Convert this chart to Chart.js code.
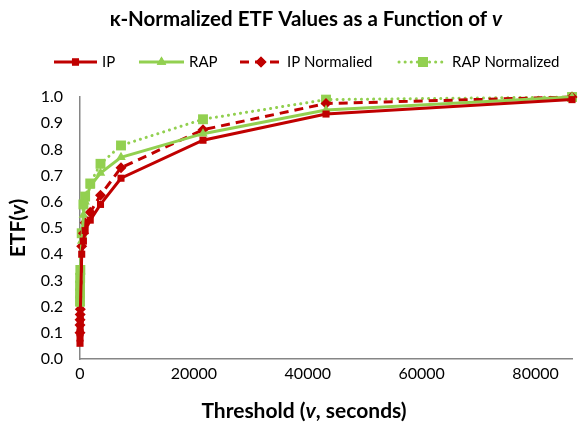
<!DOCTYPE html>
<html>
<head>
<meta charset="utf-8">
<script src="https://cdn.jsdelivr.net/npm/chart.js@4/dist/chart.umd.min.js"></script>
<style>
html,body{margin:0;padding:0;background:#fff;}
#wrap{width:579px;height:429px;position:relative;}
</style>
</head>
<body>
<div id="wrap"><canvas id="c" width="579" height="429"></canvas></div>
<script>
// ---- data ----
const thresholds = [1, 5, 10, 30, 60, 300, 600, 900, 1800, 3600, 7200, 21600, 43200, 86400];
const ipValues = [0.06, 0.08, 0.10, 0.12, 0.15, 0.40, 0.45, 0.49, 0.53, 0.59, 0.69, 0.835, 0.935, 0.99];
const rapValues = [0.21, 0.23, 0.25, 0.28, 0.31, 0.45, 0.55, 0.60, 0.66, 0.71, 0.77, 0.86, 0.95, 1.0];
const ipNormValues = [0.10, 0.13, 0.15, 0.17, 0.19, 0.43, 0.48, 0.52, 0.56, 0.625, 0.73, 0.875, 0.975, 1.0];
const rapNormValues = [0.22, 0.25, 0.28, 0.31, 0.34, 0.48, 0.59, 0.62, 0.67, 0.745, 0.815, 0.915, 0.99, 1.0];
const seriesNames = ['IP', 'RAP', 'IP Normalied', 'RAP Normalized'];
const xTickValues = [0, 20000, 40000, 60000, 80000];
const yTickValues = [0, 0.1, 0.2, 0.3, 0.4, 0.5, 0.6, 0.7, 0.8, 0.9, 1.0];

const RED = '#C00000';
const GREEN = '#92D050';
const FONT = 'Lato, "Open Sans", sans-serif';

function pts(vals){ return thresholds.map((x,i)=>({x:x, y:vals[i]})); }

const datasets = [
  {label: seriesNames[0], data: pts(ipValues), borderColor: RED, backgroundColor: RED,
   borderWidth: 3, pointStyle: 'rect', pointRadius: 5, pointBorderWidth: 0, borderDash: [], clip: false},
  {label: seriesNames[1], data: pts(rapValues), borderColor: GREEN, backgroundColor: GREEN,
   borderWidth: 3, pointStyle: 'triangle', pointRadius: 5.5, pointBorderWidth: 0, borderDash: [], clip: false},
  {label: seriesNames[2], data: pts(ipNormValues), borderColor: RED, backgroundColor: RED,
   borderWidth: 3, pointStyle: 'rectRot', pointRadius: 5.5, pointBorderWidth: 0, borderDash: [9, 6], clip: false},
  {label: seriesNames[3], data: pts(rapNormValues), borderColor: GREEN, backgroundColor: GREEN,
   borderWidth: 3, pointStyle: 'rect', pointRadius: 7, pointBorderWidth: 0, borderDash: [0.1, 6], borderCapStyle: 'round', clip: false}
];

function drawRich(ctx, segs, size, cx, cy){
  let total = 0;
  segs.forEach(s => { ctx.font = s[1] + ' ' + size + 'px ' + FONT; s.w = ctx.measureText(s[0]).width; total += s.w; });
  let x = cx - total/2;
  ctx.textBaseline = 'middle';
  ctx.textAlign = 'left';
  segs.forEach(s => { ctx.font = s[1] + ' ' + size + 'px ' + FONT; ctx.fillText(s[0], x, cy); x += s.w; });
}

const textPlugin = {
  id: 'texts',
  afterDraw(chart){
    const ctx = chart.ctx;
    ctx.save();
    ctx.fillStyle = '#000';
    // title
    drawRich(ctx, [['\u03BA-Normalized ETF Values as a Function of ', 'bold'], ['v', 'italic bold']], 20.5, 306, 19);
    // x axis title
    drawRich(ctx, [['Threshold (', 'bold'], ['v', 'italic bold'], [', seconds)', 'bold']], 21, 304, 411);
    // y axis title
    ctx.save();
    ctx.translate(18, 228);
    ctx.rotate(-Math.PI/2);
    drawRich(ctx, [['ETF(', 'bold'], ['v', 'italic bold'], [')', 'bold']], 21, 0, 0);
    ctx.restore();
    // legend
    const lx = [54, 139, 240, 399];
    const ll = [43, 45, 42, 48];
    const ly = 62;
    datasets.forEach((ds, i) => {
      ctx.save();
      ctx.strokeStyle = ds.borderColor;
      ctx.lineWidth = 3;
      ctx.setLineDash(ds.borderDash);
      ctx.lineCap = ds.borderCapStyle || 'butt';
      ctx.beginPath();
      ctx.moveTo(lx[i], ly);
      ctx.lineTo(lx[i] + ll[i], ly);
      ctx.stroke();
      ctx.setLineDash([]);
      ctx.fillStyle = ds.backgroundColor;
      Chart.helpers.drawPoint(ctx, {pointStyle: ds.pointStyle, rotation: 0, borderWidth: 0, radius: ds.pointRadius}, lx[i] + ll[i]/2, ly);
      ctx.fill();
      ctx.restore();
      ctx.fillStyle = '#000';
      ctx.font = '15px ' + FONT;
      ctx.textAlign = 'left';
      ctx.textBaseline = 'middle';
      ctx.fillText(ds.label, lx[i] + ll[i] + 5, ly);
    });
    ctx.restore();
  }
};

new Chart(document.getElementById('c'), {
  type: 'line',
  data: {datasets: datasets},
  plugins: [textPlugin],
  options: {
    responsive: false,
    animation: false,
    layout: {padding: {top: 97, right: 1, left: 0, bottom: 0}},
    plugins: {legend: {display: false}, title: {display: false}, tooltip: {enabled: false}},
    scales: {
      x: {
        type: 'linear', min: 0, max: 86400,
        afterBuildTicks: s => { s.ticks = xTickValues.map(v => ({value: v})); },
        afterFit: s => { s.height = 70; },
        grid: {display: false, drawTicks: false},
        border: {color: '#868686', width: 1.5},
        ticks: {font: {family: FONT, size: 16}, color: '#000', padding: 5, maxRotation: 0,
          callback: v => String(v)}
      },
      y: {
        min: 0, max: 1.0,
        afterBuildTicks: s => { s.ticks = yTickValues.map(v => ({value: v})); },
        afterFit: s => { s.width = 80; },
        grid: {display: false, drawTicks: false},
        border: {color: '#868686', width: 1.5},
        ticks: {font: {family: FONT, size: 16}, color: '#000', padding: 17,
          callback: v => Number(v).toFixed(1)}
      }
    }
  }
});
</script>
</body>
</html>
